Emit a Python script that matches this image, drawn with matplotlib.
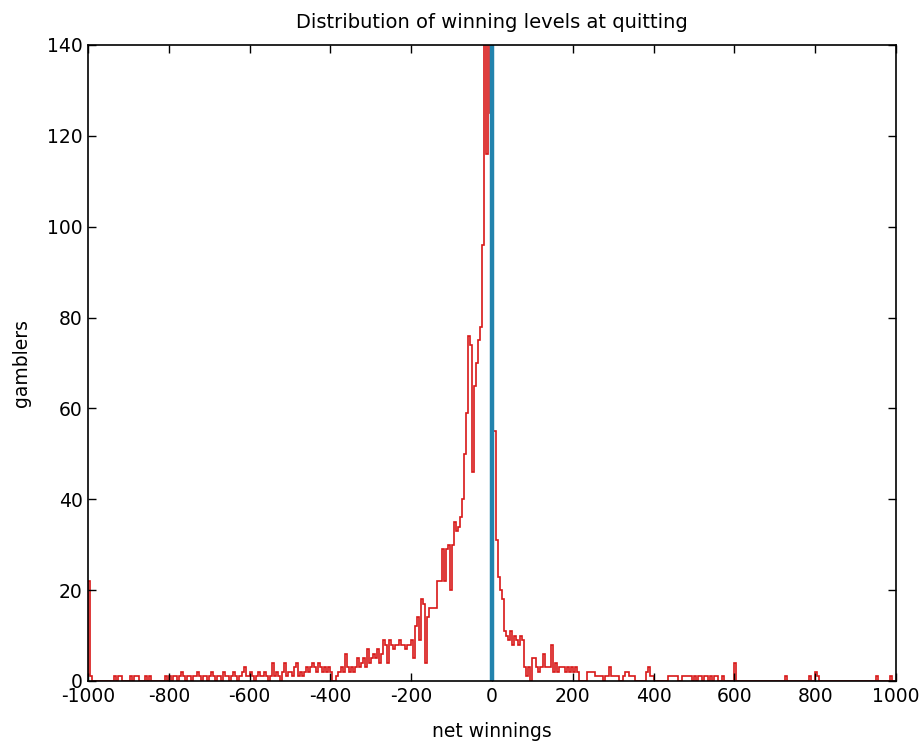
import numpy as np
from matplotlib import pyplot as plt

plt.rcParams['font.family'] = ['DejaVu Sans']
plt.rcParams['axes.unicode_minus'] = False

# histogram of net winnings, bins of width 5 from -1000 to 1000
edges = np.arange(-1000, 1001, 5)

counts_neg = [
    22, 1, 0, 0, 0, 0, 0, 0, 0, 0, 0, 0, 0, 1, 0, 1, 1, 0, 0, 0,          # -1000
    0, 1, 0, 1, 1, 0, 0, 0, 1, 0, 1, 0, 0, 0, 0, 0, 0, 0, 1, 0,           # -900
    1, 0, 1, 1, 0, 1, 2, 1, 0, 1, 1, 0, 1, 1, 2, 1, 0, 1, 1, 0,           # -800
    1, 2, 1, 0, 1, 1, 0, 2, 1, 1, 0, 1, 2, 1, 0, 1, 2, 3, 1, 1,           # -700
    2, 1, 0, 1, 2, 1, 1, 2, 1, 0, 1, 4, 1, 2, 1, 0, 2, 4, 1, 2,           # -600
    2, 1, 3, 4, 1, 2, 1, 2, 3, 2, 3, 4, 3, 2, 4, 3, 2, 3, 2, 3,           # -500
    2, 0, 0, 1, 2, 3, 2, 6, 3, 2, 3, 2, 3, 5, 3, 4, 5, 3, 7, 4,           # -400
    5, 6, 5, 7, 4, 6, 9, 8, 4, 9, 8, 7, 8, 8, 9, 8, 8, 7, 8, 8,           # -300
    9, 5, 12, 14, 9, 18, 17, 4, 14, 16, 16, 16, 16, 22, 22, 29, 22, 29, 30, 20,  # -200
    30, 35, 33, 34, 36, 40, 50, 59, 76, 74, 46, 65, 70, 75, 78, 96, 150, 116, 150, 125,  # -100
]

counts_pos = [
    55, 55, 31, 23, 20, 18, 11, 10, 9, 11, 8, 10, 9, 8, 10, 9, 3, 1, 3, 0,  # 0
    5, 5, 3, 2, 3, 6, 3, 3, 3, 8, 2, 4, 2, 3, 3, 3, 2, 3, 2, 3,           # 100
    2, 3, 2, 0, 0, 0, 0, 2, 2, 2, 2, 1, 1, 1, 1, 0, 1, 1, 3, 1,           # 200
    1, 1, 1, 0, 0, 1, 2, 2, 1, 1, 1, 0, 0, 0, 0, 0, 2, 3, 1, 1,           # 300
    0, 0, 0, 0, 0, 0, 0, 1, 1, 1, 1, 1, 0, 0, 1, 1, 1, 1, 1, 0,           # 400
    1, 0, 1, 1, 0, 1, 1, 0, 1, 0, 1, 1, 0, 0, 1, 0, 0, 0, 0, 0,           # 500
    4, 0, 0, 0, 0, 0, 0, 0, 0, 0, 0, 0, 0, 0, 0, 0, 0, 0, 0, 0,           # 600
    0, 0, 0, 0, 0, 1, 0, 0, 0, 0, 0, 0, 0, 0, 0, 0, 0, 1, 0, 0,           # 700
    2, 1, 0, 0, 0, 0, 0, 0, 0, 0, 0, 0, 0, 0, 0, 0, 0, 0, 0, 0,           # 800
    0, 0, 0, 0, 0, 0, 0, 0, 0, 0, 1, 0, 0, 0, 0, 0, 0, 1, 0, 0,           # 900
]

counts = np.array(counts_neg + counts_pos)

fig = plt.figure(figsize=(9.24, 7.46), dpi=100)
ax = fig.add_axes([88 / 924, 65 / 746, 808 / 924, 636 / 746])

ax.stairs(counts, edges, color='#d81818', linewidth=1.2)
ax.axvline(0, color='#2283ad', linewidth=3.2)

ax.set_xlim(-1000, 1000)
ax.set_ylim(0, 140)
ax.set_xticks(np.arange(-1000, 1001, 200))
ax.set_yticks(np.arange(0, 141, 20))
ax.tick_params(direction='in', top=True, right=True, length=6, labelsize=13.5, width=1, pad=4)
for s in ax.spines.values():
    s.set_linewidth(1.2)

ax.set_title('Distribution of winning levels at quitting', fontsize=14, pad=12)
ax.set_xlabel('net winnings', fontsize=13.5, labelpad=12)
ax.set_ylabel('gamblers', fontsize=13.5, labelpad=11)

fig.savefig('out.png', dpi=100)
